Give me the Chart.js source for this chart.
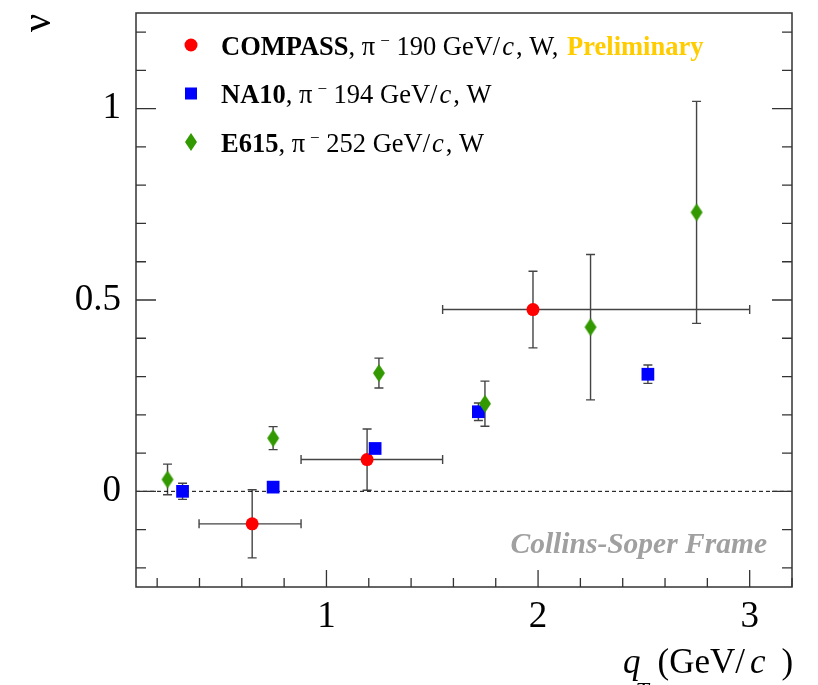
<!DOCTYPE html>
<html>
<head>
<meta charset="utf-8">
<script src="https://cdn.jsdelivr.net/npm/chart.js@4"></script>
<style>
  html, body { margin: 0; padding: 0; background: #fff; }
  canvas { display: block; }
</style>
</head>
<body>
<canvas id="nuChart" width="818" height="685"></canvas>
<script>
// COMPASS, pi- 190 GeV/c, W (preliminary)
const compassQt = [0.649, 1.192, 1.976];
const compassNu = [-0.085, 0.083, 0.475];
const compassNuErr = [0.089, 0.080, 0.100];
const compassQtLow = [0.398, 0.880, 1.549];
const compassQtHigh = [0.880, 1.549, 3.0];

// NA10, pi- 194 GeV/c, W
const na10Qt = [0.320, 0.748, 1.230, 1.718, 2.519];
const na10Nu = [0.000, 0.011, 0.112, 0.208, 0.306];
const na10NuErr = [0.021, 0.010, 0.012, 0.023, 0.024];

// E615, pi- 252 GeV/c, W
const e615Qt = [0.249, 0.748, 1.248, 1.749, 2.248, 2.749];
const e615Nu = [0.031, 0.139, 0.309, 0.229, 0.429, 0.729];
const e615NuErr = [0.040, 0.030, 0.039, 0.059, 0.190, 0.290];

// axes
const xTickLabels = [1, 2, 3];
const yTickLabels = [0, 0.5, 1];
const zeroLineQt = [0.1, 3.2];

const serif = "'Liberation Serif', 'Times New Roman', serif";
const toPoints = (xs, ys) => xs.map((v, i) => ({ x: v, y: ys[i] }));

// elongated diamond marker like the ROOT one
const diamond = document.createElement('canvas');
diamond.width = 14;
diamond.height = 20;
(function() {
    const c = diamond.getContext('2d');
    c.fillStyle = '#339900';
    c.beginPath();
    c.moveTo(7, 1);
    c.lineTo(13, 10);
    c.lineTo(7, 19);
    c.lineTo(1, 10);
    c.closePath();
    c.fill();
})();

const errorSets = [
    { qt: compassQt, nu: compassNu, err: compassNuErr, lo: compassQtLow, hi: compassQtHigh },
    { qt: na10Qt, nu: na10Nu, err: na10NuErr },
    { qt: e615Qt, nu: e615Nu, err: e615NuErr },
];

const errorBars = {
    id: 'errorBars',
    beforeDatasetsDraw(chart) {
        const { ctx, scales: { x, y } } = chart;
        const cap = 4.5;
        ctx.save();
        ctx.strokeStyle = '#444';
        ctx.lineWidth = 1.4;
        errorSets.forEach(s => {
            s.qt.forEach((q, i) => {
                const px = x.getPixelForValue(q);
                const py = y.getPixelForValue(s.nu[i]);
                const top = y.getPixelForValue(s.nu[i] + s.err[i]);
                const bot = y.getPixelForValue(s.nu[i] - s.err[i]);
                ctx.beginPath();
                ctx.moveTo(px, top); ctx.lineTo(px, bot);
                ctx.moveTo(px - cap, top); ctx.lineTo(px + cap, top);
                ctx.moveTo(px - cap, bot); ctx.lineTo(px + cap, bot);
                if (s.lo) {
                    const l = x.getPixelForValue(s.lo[i]);
                    const r = x.getPixelForValue(s.hi[i]);
                    ctx.moveTo(l, py); ctx.lineTo(r, py);
                    ctx.moveTo(l, py - cap); ctx.lineTo(l, py + cap);
                    ctx.moveTo(r, py - cap); ctx.lineTo(r, py + cap);
                }
                ctx.stroke();
            });
        });
        ctx.restore();
    }
};

function drawParts(ctx, x, y, parts) {
    parts.forEach(p => {
        x += p.dx || 0;
        ctx.font = p.font;
        ctx.fillStyle = p.color || '#000';
        ctx.fillText(p.t, x, y + (p.dy || 0));
        x += ctx.measureText(p.t).width;
    });
}

const reg = '26.5px ' + serif, bold = 'bold 26.5px ' + serif, ital = 'italic 26.5px ' + serif, sup = '17px ' + serif;
const legendRows = [
    { style: 'circle', parts: [
        { t: 'COMPASS', font: bold }, { t: ', π', font: reg }, { t: '−', font: sup, dx: 5, dy: -9 },
        { t: ' 190 GeV/', font: reg }, { t: 'c', font: ital, dx: 2 }, { t: ', W, ', font: reg, dx: 2 },
        { t: 'Preliminary', font: bold, color: '#ffcc00', dx: 2 }] },
    { style: 'square', parts: [
        { t: 'NA10', font: bold }, { t: ', π', font: reg }, { t: '−', font: sup, dx: 5, dy: -9 },
        { t: ' 194 GeV/', font: reg }, { t: 'c', font: ital, dx: 2 }, { t: ', W', font: reg, dx: 2 }] },
    { style: 'diamond', parts: [
        { t: 'E615', font: bold }, { t: ', π', font: reg }, { t: '−', font: sup, dx: 5, dy: -9 },
        { t: ' 252 GeV/', font: reg }, { t: 'c', font: ital, dx: 2 }, { t: ', W', font: reg, dx: 2 }] },
];

const decorations = {
    id: 'decorations',
    afterDraw(chart) {
        const { ctx, chartArea: a, scales: { x, y } } = chart;
        ctx.save();
        // frame
        ctx.strokeStyle = '#333';
        ctx.lineWidth = 1.5;
        ctx.strokeRect(a.left, a.top, a.right - a.left, a.bottom - a.top);
        // inner ticks
        ctx.lineWidth = 1.3;
        ctx.beginPath();
        for (let k = -2; k <= 12; k++) {
            const py = y.getPixelForValue(k / 10);
            const len = k % 5 === 0 ? 20 : 10;
            ctx.moveTo(a.left, py); ctx.lineTo(a.left + len, py);
            ctx.moveTo(a.right, py); ctx.lineTo(a.right - len, py);
        }
        for (let k = 1; k <= 16; k++) {
            const px = x.getPixelForValue(k / 5);
            const len = k % 5 === 0 ? 17 : 9;
            ctx.moveTo(px, a.bottom); ctx.lineTo(px, a.bottom - len);
        }
        ctx.stroke();

        // legend
        ctx.textBaseline = 'alphabetic';
        ctx.textAlign = 'left';
        legendRows.forEach((row, i) => {
            const cy = 45 + i * 48.5;
            if (row.style === 'circle') {
                ctx.fillStyle = '#ff0000';
                ctx.beginPath(); ctx.arc(191, cy, 6.5, 0, Math.PI * 2); ctx.fill();
            } else if (row.style === 'square') {
                ctx.fillStyle = '#0000ff';
                ctx.fillRect(185, cy - 6, 12, 12);
            } else {
                ctx.drawImage(diamond, 184, cy - 10);
            }
            drawParts(ctx, 221, cy + 9.5, row.parts);
        });

        // frame label
        ctx.font = 'bold italic 29.5px ' + serif;
        ctx.fillStyle = '#a0a0a0';
        ctx.textAlign = 'right';
        ctx.fillText('Collins-Soper Frame', 767, 553);

        // x title
        ctx.textAlign = 'left';
        drawParts(ctx, 623, 673, [
            { t: 'q', font: 'italic 35px ' + serif },
            { t: 'T', font: 'italic 24px ' + serif, dx: -5, dy: 25 },
            { t: ' (GeV/', font: '35px ' + serif },
            { t: 'c', font: 'italic 35px ' + serif, dx: 5 },
            { t: ')', font: '35px ' + serif, dx: 16 },
        ]);

        // y title (rotated)
        ctx.translate(50, 23);
        ctx.rotate(-Math.PI / 2);
        ctx.textAlign = 'center';
        ctx.font = '40px ' + serif;
        ctx.fillStyle = '#000';
        ctx.fillText('ν', 0, 0);
        ctx.restore();
    }
};

new Chart(document.getElementById('nuChart'), {
    type: 'scatter',
    data: {
        datasets: [
            {
                label: 'COMPASS',
                data: toPoints(compassQt, compassNu),
                pointStyle: 'circle',
                pointRadius: 6.5,
                backgroundColor: '#ff0000',
                borderWidth: 0,
                order: 2,
            },
            {
                label: 'NA10',
                data: toPoints(na10Qt, na10Nu),
                pointStyle: 'rect',
                pointRadius: 9,
                backgroundColor: '#0000ff',
                borderWidth: 0,
                order: 1,
            },
            {
                label: 'E615',
                data: toPoints(e615Qt, e615Nu),
                pointStyle: diamond,
                order: 0,
            },
            {
                type: 'line',
                label: 'zero',
                data: toPoints(zeroLineQt, [0, 0]),
                borderColor: '#000',
                borderWidth: 1,
                borderDash: [4, 3],
                pointRadius: 0,
                order: 3,
            },
        ],
    },
    options: {
        responsive: false,
        animation: false,
        devicePixelRatio: 1,
        layout: { padding: { top: 13, right: 26, left: 0, bottom: 0 } },
        plugins: {
            legend: { display: false },
            tooltip: { enabled: false },
        },
        scales: {
            x: {
                type: 'linear',
                min: 0.1,
                max: 3.2,
                grid: { display: false, drawTicks: false },
                border: { display: false },
                afterBuildTicks: s => { s.ticks = xTickLabels.map(v => ({ value: v })); },
                afterFit: s => { s.height = 98; s.paddingLeft = 0; s.paddingRight = 0; },
                ticks: {
                    color: '#000',
                    padding: 8,
                    maxRotation: 0,
                    font: { family: serif, size: 37 },
                    callback: v => String(v),
                },
            },
            y: {
                type: 'linear',
                min: -0.25,
                max: 1.25,
                grid: { display: false, drawTicks: false },
                border: { display: false },
                afterBuildTicks: s => { s.ticks = yTickLabels.map(v => ({ value: v })); },
                afterFit: s => { s.width = 136; s.paddingTop = 0; s.paddingBottom = 0; },
                ticks: {
                    color: '#000',
                    padding: 15,
                    font: { family: serif, size: 37 },
                    callback: v => String(v),
                },
            },
        },
    },
    plugins: [errorBars, decorations],
});
</script>
</body>
</html>
